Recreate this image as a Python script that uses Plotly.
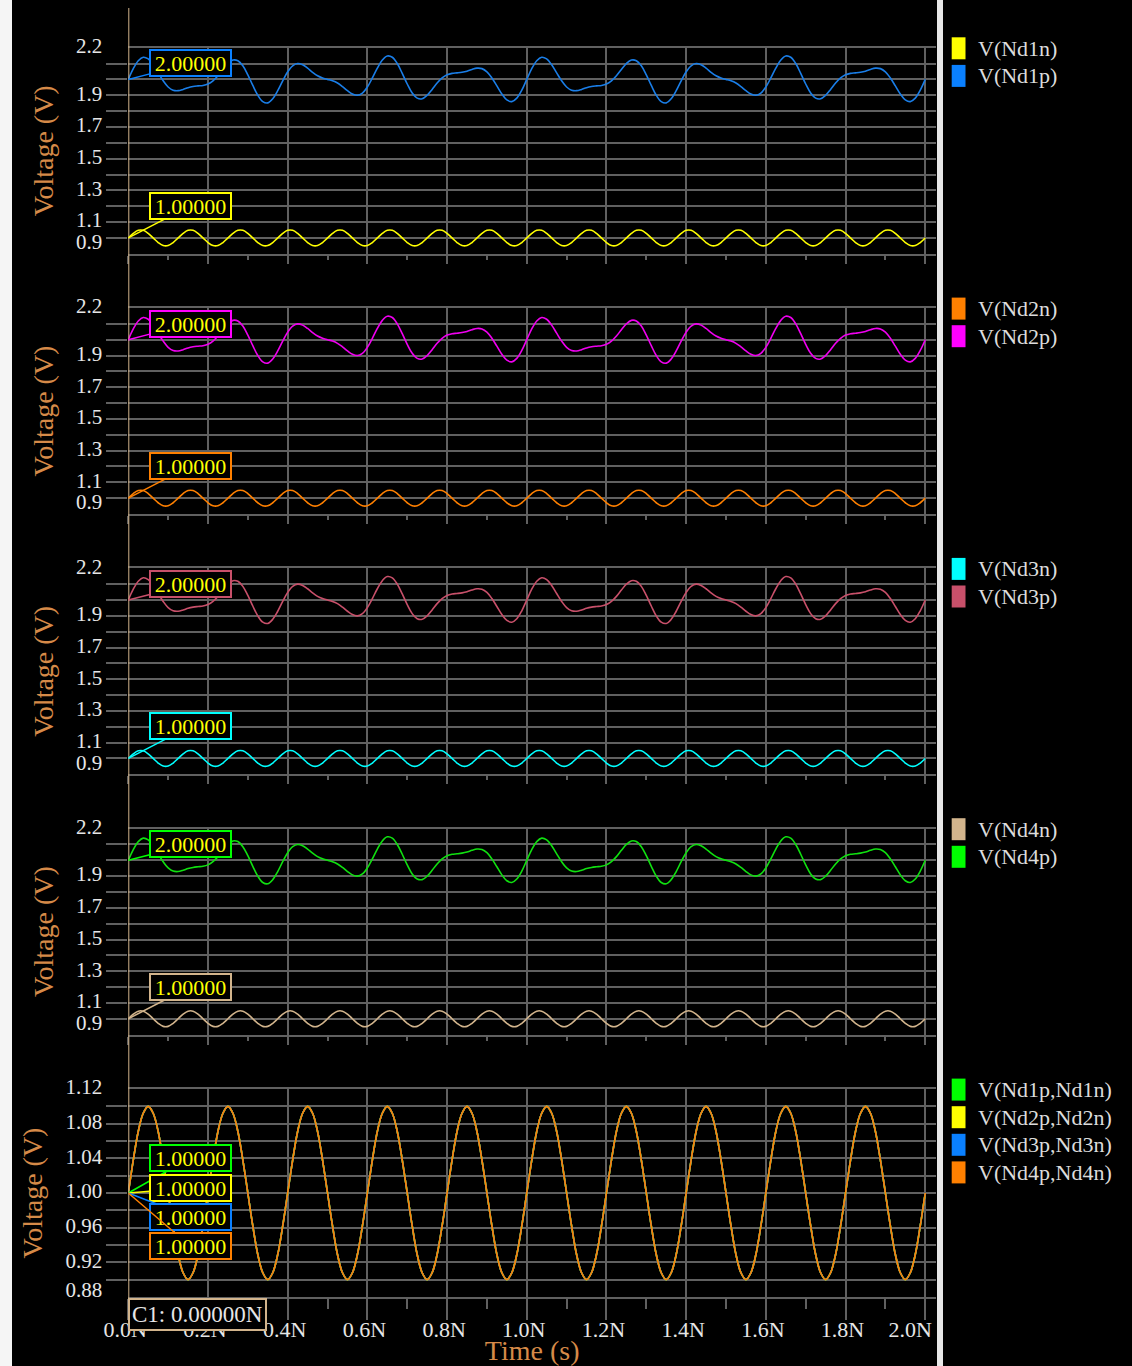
import plotly.graph_objects as go

W, H = 1132, 1366

# ---------------- data ----------------
# sample times (ns)
t_ns = [round(i * 0.0125, 4) for i in range(161)]

# single-ended "n" node voltage (same in all four blocks)
v_n = [
    1.000, 1.029, 1.048, 1.048, 1.029, 1.000, 0.971, 0.952, 0.952, 0.971,
    1.000, 1.029, 1.048, 1.048, 1.029, 1.000, 0.971, 0.952, 0.952, 0.971,
    1.000, 1.029, 1.048, 1.048, 1.029, 1.000, 0.971, 0.952, 0.952, 0.971,
    1.000, 1.029, 1.048, 1.048, 1.029, 1.000, 0.971, 0.952, 0.952, 0.971,
    1.000, 1.029, 1.048, 1.048, 1.029, 1.000, 0.971, 0.952, 0.952, 0.971,
    1.000, 1.029, 1.048, 1.048, 1.029, 1.000, 0.971, 0.952, 0.952, 0.971,
    1.000, 1.029, 1.048, 1.048, 1.029, 1.000, 0.971, 0.952, 0.952, 0.971,
    1.000, 1.029, 1.048, 1.048, 1.029, 1.000, 0.971, 0.952, 0.952, 0.971,
    1.000, 1.029, 1.048, 1.048, 1.029, 1.000, 0.971, 0.952, 0.952, 0.971,
    1.000, 1.029, 1.048, 1.048, 1.029, 1.000, 0.971, 0.952, 0.952, 0.971,
    1.000, 1.029, 1.048, 1.048, 1.029, 1.000, 0.971, 0.952, 0.952, 0.971,
    1.000, 1.029, 1.048, 1.048, 1.029, 1.000, 0.971, 0.952, 0.952, 0.971,
    1.000, 1.029, 1.048, 1.048, 1.029, 1.000, 0.971, 0.952, 0.952, 0.971,
    1.000, 1.029, 1.048, 1.048, 1.029, 1.000, 0.971, 0.952, 0.952, 0.971,
    1.000, 1.029, 1.048, 1.048, 1.029, 1.000, 0.971, 0.952, 0.952, 0.971,
    1.000, 1.029, 1.048, 1.048, 1.029, 1.000, 0.971, 0.952, 0.952, 0.971,
    1.000,
]

# single-ended "p" node voltage (same in all four blocks)
v_p = [
    2.000, 2.068, 2.118, 2.140, 2.129, 2.092, 2.041, 1.991, 1.952, 1.932,
    1.929, 1.937, 1.948, 1.955, 1.959, 1.962, 1.971, 1.991, 2.023, 2.063,
    2.100, 2.122, 2.118, 2.086, 2.029, 1.962, 1.900, 1.860, 1.852, 1.878,
    1.929, 1.991, 2.048, 2.086, 2.100, 2.092, 2.071, 2.045, 2.023, 2.009,
    2.000, 1.991, 1.977, 1.955, 1.929, 1.908, 1.900, 1.914, 1.952, 2.009,
    2.071, 2.122, 2.148, 2.140, 2.100, 2.038, 1.971, 1.914, 1.882, 1.878,
    1.900, 1.937, 1.977, 2.009, 2.029, 2.038, 2.041, 2.045, 2.052, 2.063,
    2.071, 2.068, 2.048, 2.009, 1.959, 1.908, 1.871, 1.860, 1.882, 1.932,
    2.000, 2.068, 2.118, 2.140, 2.129, 2.092, 2.041, 1.991, 1.952, 1.932,
    1.929, 1.937, 1.948, 1.955, 1.959, 1.962, 1.971, 1.991, 2.023, 2.063,
    2.100, 2.122, 2.118, 2.086, 2.029, 1.962, 1.900, 1.860, 1.852, 1.878,
    1.929, 1.991, 2.048, 2.086, 2.100, 2.092, 2.071, 2.045, 2.023, 2.009,
    2.000, 1.991, 1.977, 1.955, 1.929, 1.908, 1.900, 1.914, 1.952, 2.009,
    2.071, 2.122, 2.148, 2.140, 2.100, 2.038, 1.971, 1.914, 1.882, 1.878,
    1.900, 1.937, 1.977, 2.009, 2.029, 2.038, 2.041, 2.045, 2.052, 2.063,
    2.071, 2.068, 2.048, 2.009, 1.959, 1.908, 1.871, 1.860, 1.882, 1.932,
    2.000,
]

# differential voltage V(Ndkp,Ndkn) (identical for all four pairs)
v_diff = [
    1.000, 1.038, 1.071, 1.092, 1.100, 1.092, 1.071, 1.038, 1.000, 0.962, 0.929, 0.908, 0.900, 0.908, 0.929, 0.962,
    1.000, 1.038, 1.071, 1.092, 1.100, 1.092, 1.071, 1.038, 1.000, 0.962, 0.929, 0.908, 0.900, 0.908, 0.929, 0.962,
    1.000, 1.038, 1.071, 1.092, 1.100, 1.092, 1.071, 1.038, 1.000, 0.962, 0.929, 0.908, 0.900, 0.908, 0.929, 0.962,
    1.000, 1.038, 1.071, 1.092, 1.100, 1.092, 1.071, 1.038, 1.000, 0.962, 0.929, 0.908, 0.900, 0.908, 0.929, 0.962,
    1.000, 1.038, 1.071, 1.092, 1.100, 1.092, 1.071, 1.038, 1.000, 0.962, 0.929, 0.908, 0.900, 0.908, 0.929, 0.962,
    1.000, 1.038, 1.071, 1.092, 1.100, 1.092, 1.071, 1.038, 1.000, 0.962, 0.929, 0.908, 0.900, 0.908, 0.929, 0.962,
    1.000, 1.038, 1.071, 1.092, 1.100, 1.092, 1.071, 1.038, 1.000, 0.962, 0.929, 0.908, 0.900, 0.908, 0.929, 0.962,
    1.000, 1.038, 1.071, 1.092, 1.100, 1.092, 1.071, 1.038, 1.000, 0.962, 0.929, 0.908, 0.900, 0.908, 0.929, 0.962,
    1.000, 1.038, 1.071, 1.092, 1.100, 1.092, 1.071, 1.038, 1.000, 0.962, 0.929, 0.908, 0.900, 0.908, 0.929, 0.962,
    1.000, 1.038, 1.071, 1.092, 1.100, 1.092, 1.071, 1.038, 1.000, 0.962, 0.929, 0.908, 0.900, 0.908, 0.929, 0.962,
    1.000,
]

n_names = ["V(Nd1n)", "V(Nd2n)", "V(Nd3n)", "V(Nd4n)"]
p_names = ["V(Nd1p)", "V(Nd2p)", "V(Nd3p)", "V(Nd4p)"]
diff_names = ["V(Nd1p,Nd1n)", "V(Nd2p,Nd2n)", "V(Nd3p,Nd3n)", "V(Nd4p,Nd4n)"]

# tick label text / grid positions
se_grid = [0.9, 1.0, 1.1, 1.2, 1.3, 1.4, 1.5, 1.6, 1.7, 1.8, 1.9, 2.0, 2.1, 2.2]
se_lab_vals = [2.2, 1.9, 1.7, 1.5, 1.3, 1.1, 0.963]
se_lab_text = ["2.2", "1.9", "1.7", "1.5", "1.3", "1.1", "0.9"]
df_grid = [0.88, 0.90, 0.92, 0.94, 0.96, 0.98, 1.00, 1.02, 1.04, 1.06, 1.08, 1.10, 1.12]
df_lab_vals = [1.12, 1.08, 1.04, 1.00, 0.96, 0.92, 0.886]
df_lab_text = ["1.12", "1.08", "1.04", "1.00", "0.96", "0.92", "0.88"]
x_lab_vals = [0.0, 0.2, 0.4, 0.6, 0.8, 1.0, 1.2, 1.4, 1.6, 1.8, 1.97]
x_lab_text = ["0.0N", "0.2N", "0.4N", "0.6N", "0.8N", "1.0N", "1.2N", "1.4N", "1.6N", "1.8N", "2.0N"]

# ---------------- style ----------------
n_colors = ["#ffff00", "#ff8000", "#00ffff", "#d2b48c"]
p_colors = ["#1a7ee8", "#f000f0", "#c8506a", "#10e010"]
diff_colors = ["#00ff00", "#ffff00", "#1a7ee8", "#ff8000"]
legend_n = ["#ffff00", "#ff8000", "#00ffff", "#d2b48c"]
legend_p = ["#0a80ff", "#ff00ff", "#c8506a", "#00ff00"]
legend_diff = ["#00ff00", "#ffff00", "#0a80ff", "#ff8000"]
GRID = "#606060"
TAN = "#d2b48c"
TXT = "#e6e6e6"
ORANGE = "#d68a48"
FONT = "Liberation Serif"

def px_x(px):
    return px / W

def px_y(py):
    return 1 - py / H

# panel pixel extents (top, bottom)
panel_px = [(47.7, 253.8), (308.0, 514.0), (568.3, 774.3), (828.6, 1034.6), (1089.0, 1297.0)]
x_dom = [px_x(128.3), px_x(936.0)]
x_rng = [0, 2.027]

fig = go.Figure()

for i in range(4):
    xa, ya = f"x{i+1}", f"y{i+1}"
    fig.add_trace(go.Scatter(x=t_ns, y=v_n, mode="lines", name=n_names[i], xaxis=xa, yaxis=ya,
                             line=dict(color=n_colors[i], width=1.6, shape="spline"), showlegend=False))
    fig.add_trace(go.Scatter(x=t_ns, y=v_p, mode="lines", name=p_names[i], xaxis=xa, yaxis=ya,
                             line=dict(color=p_colors[i], width=1.6, shape="spline"), showlegend=False))
for i in range(4):
    fig.add_trace(go.Scatter(x=t_ns, y=v_diff, mode="lines", name=diff_names[i], xaxis="x5", yaxis="y5",
                             line=dict(color=diff_colors[i], width=1.6, shape="spline"), showlegend=False))
# empty trace that carries the time-axis label overlay
fig.add_trace(go.Scatter(x=[], y=[], xaxis="x6", yaxis="y5", showlegend=False, hoverinfo="skip"))

layout = dict(
    template="none",
    width=W, height=H, autosize=False,
    margin=dict(l=0, r=0, t=0, b=0, pad=0, autoexpand=False),
    paper_bgcolor="#000000", plot_bgcolor="#000000",
    showlegend=False,
)

for k in range(5):
    top, bot = panel_px[k]
    is_diff = (k == 4)
    xa = dict(
        domain=x_dom, range=x_rng, anchor=f"y{k+1}", automargin=False,
        showgrid=True, gridcolor=GRID, gridwidth=2, zeroline=False,
        showline=True, linecolor=GRID, linewidth=2, mirror=True,
        tickmode="linear", tick0=0, dtick=0.2,
        ticks="outside", ticklen=21 if is_diff else 8, tickcolor=GRID, tickwidth=2,
        minor=dict(tickmode="linear", tick0=0, dtick=0.1, ticks="outside",
                   ticklen=10 if is_diff else 4, tickcolor=GRID, tickwidth=2, showgrid=False),
        showticklabels=False, fixedrange=True,
    )
    if is_diff:
        xa.update(title=dict(text="Time (s)", font=dict(family=FONT, size=28, color=ORANGE), standoff=22))
    layout[f"xaxis{k+1}"] = xa

    ya = dict(
        domain=[px_y(bot), px_y(top)],
        range=[0.88, 1.12] if is_diff else [0.9, 2.2],
        anchor=f"x{k+1}", automargin=False,
        showgrid=False, zeroline=False, showline=False,
        tickmode="array",
        tickvals=df_lab_vals if is_diff else se_lab_vals,
        ticktext=df_lab_text if is_diff else se_lab_text,
        ticks="inside", ticklen=0,
        ticklabelstandoff=25, ticklabelshift=-2,
        tickfont=dict(family=FONT, size=21, color=TXT),
        minor=dict(tickmode="array", tickvals=df_grid if is_diff else se_grid,
                   showgrid=True, gridcolor=GRID, gridwidth=2,
                   ticks="outside", ticklen=21, tickcolor=GRID, tickwidth=2),
        title=dict(text="Voltage (V)", font=dict(family=FONT, size=28, color=ORANGE), standoff=14),
        fixedrange=True,
    )
    layout[f"yaxis{k+1}"] = ya

# label-only overlay for the time axis
layout["xaxis6"] = dict(
    domain=x_dom, range=x_rng, anchor="y5", overlaying="x5", side="bottom", automargin=False,
    showgrid=False, zeroline=False, showline=False,
    tickmode="array", tickvals=x_lab_vals, ticktext=x_lab_text,
    ticks="outside", ticklen=13, tickcolor="rgba(0,0,0,0)", ticklabelshift=-3,
    tickfont=dict(family=FONT, size=22, color=TXT), fixedrange=True,
)

fig.update_layout(**layout)

shapes = []
annotations = []

# white frame strips
shapes.append(dict(type="rect", xref="paper", yref="paper", x0=0, x1=px_x(12), y0=0, y1=1,
                   fillcolor="#f5f5f5", line=dict(width=0), layer="above"))
shapes.append(dict(type="rect", xref="paper", yref="paper", x0=px_x(937), x1=px_x(943), y0=0, y1=1,
                   fillcolor="#e8e8e8", line=dict(width=0), layer="above"))

# cursor C1 line at t = 0
shapes.append(dict(type="line", xref="x5", yref="paper", x0=t_ns[0], x1=t_ns[0],
                   y0=px_y(1298), y1=px_y(8), line=dict(color=TAN, width=2), layer="above"))

def cursor_box(text, xref, yref, yv, ay, border):
    return dict(text=text, xref=xref, yref=yref, x=t_ns[0], y=yv,
                showarrow=True, arrowhead=0, arrowwidth=1.5, arrowcolor=border,
                ax=62, ay=ay, axref="pixel", ayref="pixel", standoff=0, startstandoff=0,
                font=dict(family=FONT, size=22, color="#ffff00"),
                bgcolor="#000000", bordercolor=border, borderwidth=2, borderpad=1,
                width=77, height=22)

for i in range(4):
    xr, yr = f"x{i+1}", f"y{i+1}"
    annotations.append(cursor_box(f"{v_p[0]:.5f}", xr, yr, v_p[0], -16, legend_p[i]))
    annotations.append(cursor_box(f"{v_n[0]:.5f}", xr, yr, v_n[0], -32, legend_n[i]))

for i, ay in enumerate([-35, -5, 24, 53]):
    annotations.append(cursor_box(f"{v_diff[0]:.5f}", "x5", "y5", v_diff[0], ay, legend_diff[i]))

annotations.append(dict(text=f"C1: {t_ns[0]:.5f}N", xref="x5", yref="paper", x=t_ns[0], y=px_y(1314),
                        xanchor="left", yanchor="middle", showarrow=False,
                        font=dict(family=FONT, size=23, color=TXT),
                        bgcolor="#000000", bordercolor=TAN, borderwidth=2, borderpad=2))

# legends (colour swatch + name) beside each panel
legend_sets = [
    ([n_names[0], p_names[0]], [legend_n[0], legend_p[0]]),
    ([n_names[1], p_names[1]], [legend_n[1], legend_p[1]]),
    ([n_names[2], p_names[2]], [legend_n[2], legend_p[2]]),
    ([n_names[3], p_names[3]], [legend_n[3], legend_p[3]]),
    (diff_names, legend_diff),
]
for k, (names, cols) in enumerate(legend_sets):
    top = panel_px[k][0] - 10.4
    for j, (nm, c) in enumerate(zip(names, cols)):
        y0 = top + j * 27.6
        shapes.append(dict(type="rect", xref="paper", yref="paper",
                           x0=px_x(951.7), x1=px_x(965.5), y0=px_y(y0 + 22), y1=px_y(y0),
                           fillcolor=c, line=dict(width=0), layer="above"))
        annotations.append(dict(text=nm, xref="paper", yref="paper", x=px_x(976), y=px_y(y0 + 11),
                                xanchor="left", yanchor="middle", showarrow=False,
                                font=dict(family=FONT, size=22, color="#dcdcdc")))

fig.update_layout(shapes=shapes, annotations=annotations)
fig.write_html("out.html")
